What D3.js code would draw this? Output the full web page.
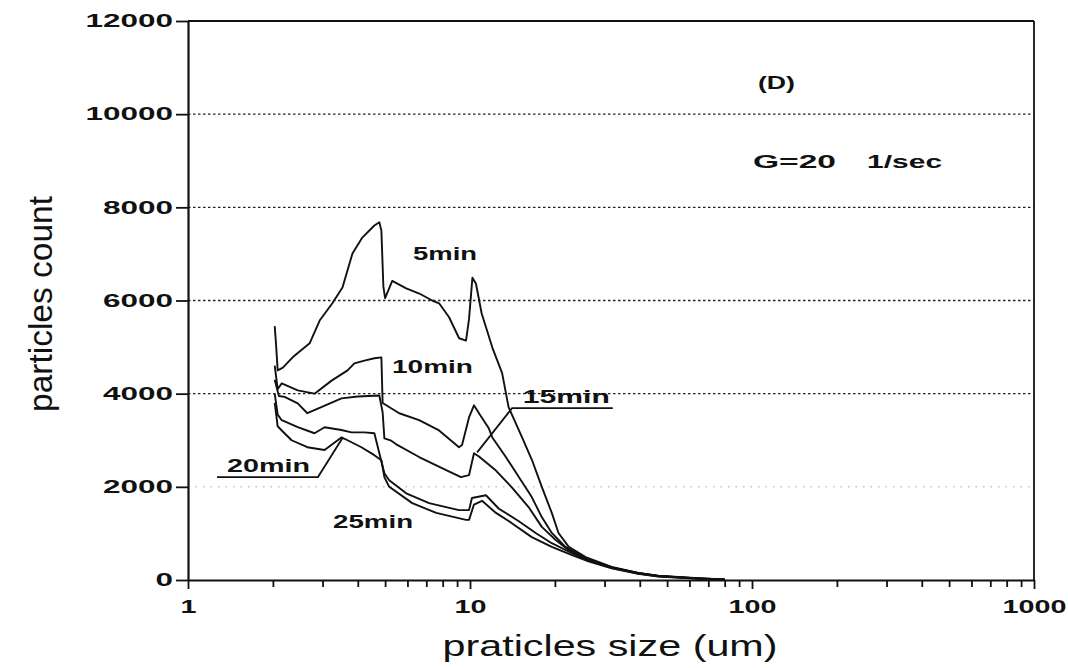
<!DOCTYPE html>
<html>
<head>
<meta charset="utf-8">
<script src="https://cdn.jsdelivr.net/npm/d3@7"></script>
<style>
  body { margin: 0; background: #fff; }
  text { font-family: "Liberation Sans", Arial, sans-serif; fill: #111; }
</style>
</head>
<body>
<div id="chart"></div>
<script>
// particle counts: [size (um), count]
const series5min = [[2.03,5450],[2.05,5100],[2.08,4500],[2.17,4560],[2.35,4780],[2.7,5080],[2.93,5570],[3.25,5940],[3.53,6280],[3.83,7010],[4.15,7350],[4.58,7610],[4.77,7680],[4.85,7500],[4.93,6300],[5.0,6050],[5.3,6420],[5.94,6260],[6.61,6150],[7.34,6000],[7.77,5940],[8.43,5640],[9.15,5190],[9.68,5140],[9.92,5600],[10.2,6490],[10.5,6360],[11.0,5720],[12.0,4990],[13.0,4440],[13.7,3710],[15.3,3060],[16.6,2570],[18.0,1990],[19.5,1440],[20.6,1010],[22.4,710],[25.7,490],[31.8,280],[39.5,150],[46.5,90],[64.5,40],[80,10]];
const series10min = [[2.03,4600],[2.08,4100],[2.15,4220],[2.45,4070],[2.81,4000],[3.23,4280],[3.68,4500],[3.89,4650],[4.22,4710],[4.58,4760],[4.85,4780],[4.9,3800],[5.61,3580],[6.6,3430],[7.77,3210],[9.14,2850],[9.37,2900],[9.92,3490],[10.33,3750],[10.76,3580],[11.67,3250],[12.0,3060],[13.4,2640],[14.9,2210],[16.56,1780],[17.97,1350],[19.5,1010],[21.8,710],[26.3,430],[31.8,270],[39.5,150],[46.5,85],[64.5,35],[80,10]];
const series15min = [[2.03,4300],[2.1,3950],[2.2,3930],[2.45,3790],[2.65,3580],[2.97,3710],[3.5,3900],[4.0,3940],[4.77,3960],[4.9,3600],[4.97,3040],[5.26,2990],[5.52,2900],[6.6,2640],[8.23,2360],[9.29,2210],[9.92,2250],[10.33,2720],[10.76,2650],[12.36,2350],[14.07,1990],[16.16,1560],[17.97,1140],[20.13,860],[22.4,640],[26.3,440],[31.8,270],[39.5,145],[46.5,85],[64.5,35],[80,10]];
const series20min = [[2.03,4000],[2.08,3550],[2.15,3430],[2.45,3280],[2.81,3150],[3.05,3280],[3.5,3220],[3.8,3170],[4.22,3170],[4.58,3150],[4.77,2720],[4.97,2290],[5.17,2140],[5.94,1860],[7.16,1650],[9.14,1500],[9.92,1500],[10.16,1760],[11.39,1820],[12.66,1530],[14.9,1260],[17.1,1010],[19.5,790],[22.9,580],[26.3,420],[31.8,260],[39.5,140],[46.5,80],[64.5,30],[80,8]];
const series25min = [[2.03,3800],[2.08,3300],[2.15,3210],[2.33,3000],[2.65,2850],[3.05,2790],[3.5,3060],[3.68,3000],[4.12,2850],[4.58,2680],[4.85,2570],[4.97,2210],[5.17,2000],[6.24,1650],[7.59,1440],[9.68,1290],[9.92,1290],[10.33,1620],[11.03,1700],[12.36,1440],[14.07,1220],[16.56,920],[19.5,710],[22.9,540],[26.3,400],[31.8,250],[39.5,135],[46.5,75],[64.5,28],[80,8]];

const seriesNames = ["5min", "10min", "15min", "20min", "25min"];
const yTicks = [0, 2000, 4000, 6000, 8000, 10000, 12000];
const gridValues = [2000, 4000, 6000, 8000, 10000];
const xMajor = [1, 10, 100, 1000];
const xMinor = [2,3,4,5,6,7,8,9, 20,30,40,50,60,70,80,90, 200,300,400,500,600,700,800,900];

const allSeries = [series5min, series10min, series15min, series20min, series25min];

let svg = d3.select("#chart").append("svg")
    .attr("width", 1068).attr("height", 668)
    .style("background", "#fff");

let x = d3.scaleLog().domain([1, 1000]).range([188, 1034]);
let y = d3.scaleLinear().domain([0, 12000]).range([580, 21]);

// dotted grid lines
svg.append("g").selectAll("line")
    .data(gridValues)
    .join("line")
    .attr("x1", x(1)).attr("x2", x(1000))
    .attr("y1", d => y(d)).attr("y2", d => y(d))
    .attr("stroke", d => d === 2000 ? "#9aa3c8" : "#222")
    .attr("stroke-width", d => d === 2000 ? 1 : 1.3)
    .attr("stroke-dasharray", d => d === 2000 ? "1.5,6" : "2.5,2.5");

// top and right frame
svg.append("line")
    .attr("x1", x(1)).attr("x2", x(1000)).attr("y1", y(12000)).attr("y2", y(12000))
    .attr("stroke", "#111").attr("stroke-width", 1.8);
svg.append("line")
    .attr("x1", x(1000)).attr("x2", x(1000)).attr("y1", y(12000)).attr("y2", y(0))
    .attr("stroke", "#111").attr("stroke-width", 1.8);

// y axis
let yAxis = svg.append("g")
    .attr("transform", `translate(${x(1)},0)`)
    .call(d3.axisLeft(y).tickValues(yTicks).tickSize(12).tickSizeOuter(0).tickPadding(3).tickFormat(d3.format("d")));
yAxis.select(".domain").attr("stroke", "#111").attr("stroke-width", 2.2);
yAxis.selectAll(".tick line").attr("stroke", "#111").attr("stroke-width", 1.8);
yAxis.selectAll("text")
    .style("font-size", "18px").style("font-weight", "bold").style("fill", "#111")
    .attr("textLength", d => String(d).length * 17.5)
    .attr("lengthAdjust", "spacingAndGlyphs");

// x axis: minor ticks
let xMinorAxis = svg.append("g")
    .attr("transform", `translate(0,${y(0)})`)
    .call(d3.axisBottom(x).tickValues(xMinor).tickSize(7).tickSizeOuter(0).tickFormat(""));
xMinorAxis.select(".domain").attr("stroke", "#111").attr("stroke-width", 2.2);
xMinorAxis.selectAll(".tick line").attr("stroke", "#111").attr("stroke-width", 1.8);

// x axis: major ticks with labels
let xAxis = svg.append("g")
    .attr("transform", `translate(0,${y(0)})`)
    .call(d3.axisBottom(x).tickValues(xMajor).tickSize(9).tickSizeOuter(0).tickPadding(11).tickFormat(d3.format("d")));
xAxis.select(".domain").remove();
xAxis.selectAll(".tick line").attr("stroke", "#111").attr("stroke-width", 1.8);
xAxis.selectAll("text")
    .style("font-size", "18px").style("font-weight", "bold").style("fill", "#111")
    .attr("textLength", d => String(d).length * 16)
    .attr("lengthAdjust", "spacingAndGlyphs");

// curves
let line = d3.line().x(d => x(d[0])).y(d => y(d[1]));
svg.append("g").selectAll("path")
    .data(allSeries)
    .join("path")
    .attr("d", line)
    .attr("fill", "none")
    .attr("stroke", "#111")
    .attr("stroke-width", 1.9)
    .attr("stroke-linejoin", "round");

// curve labels (positions in data units)
function label(text, sx, vy, width, size, weight) {
    svg.append("text")
        .attr("x", x(sx)).attr("y", y(vy))
        .attr("textLength", width).attr("lengthAdjust", "spacingAndGlyphs")
        .style("font-size", size + "px").style("font-weight", weight || "bold")
        .text(text);
}
label(seriesNames[0], 6.28, 6860, 64, 18);
label(seriesNames[1], 5.29, 4440, 81, 18);
label(seriesNames[2], 15.4, 3790, 87, 18);
label(seriesNames[3], 1.375, 2310, 83, 18);
label(seriesNames[4], 3.27, 1110, 80, 18);
label("(D)", 105, 10540, 37, 18);
label("G=20", 100.8, 8850, 83, 18);
label("1/sec", 256, 8850, 75, 18);

// leader lines for 15min and 20min
let leaders = [
    [[32.1, 3690], [14.1, 3690], [10.6, 2740]],
    [[1.267, 2210], [2.89, 2210], [3.54, 3060]]
];
svg.append("g").selectAll("path")
    .data(leaders)
    .join("path")
    .attr("d", line)
    .attr("fill", "none")
    .attr("stroke", "#111")
    .attr("stroke-width", 1.8);

// axis titles
svg.append("text")
    .attr("x", 610).attr("y", 656)
    .attr("text-anchor", "middle")
    .attr("textLength", 335).attr("lengthAdjust", "spacingAndGlyphs")
    .style("font-size", "30px")
    .text("praticles size (um)");

svg.append("text")
    .attr("transform", "translate(52,304) rotate(-90) scale(1,1.35)")
    .attr("text-anchor", "middle")
    .attr("textLength", 216).attr("lengthAdjust", "spacingAndGlyphs")
    .style("font-size", "25px")
    .text("particles count");
</script>
</body>
</html>
